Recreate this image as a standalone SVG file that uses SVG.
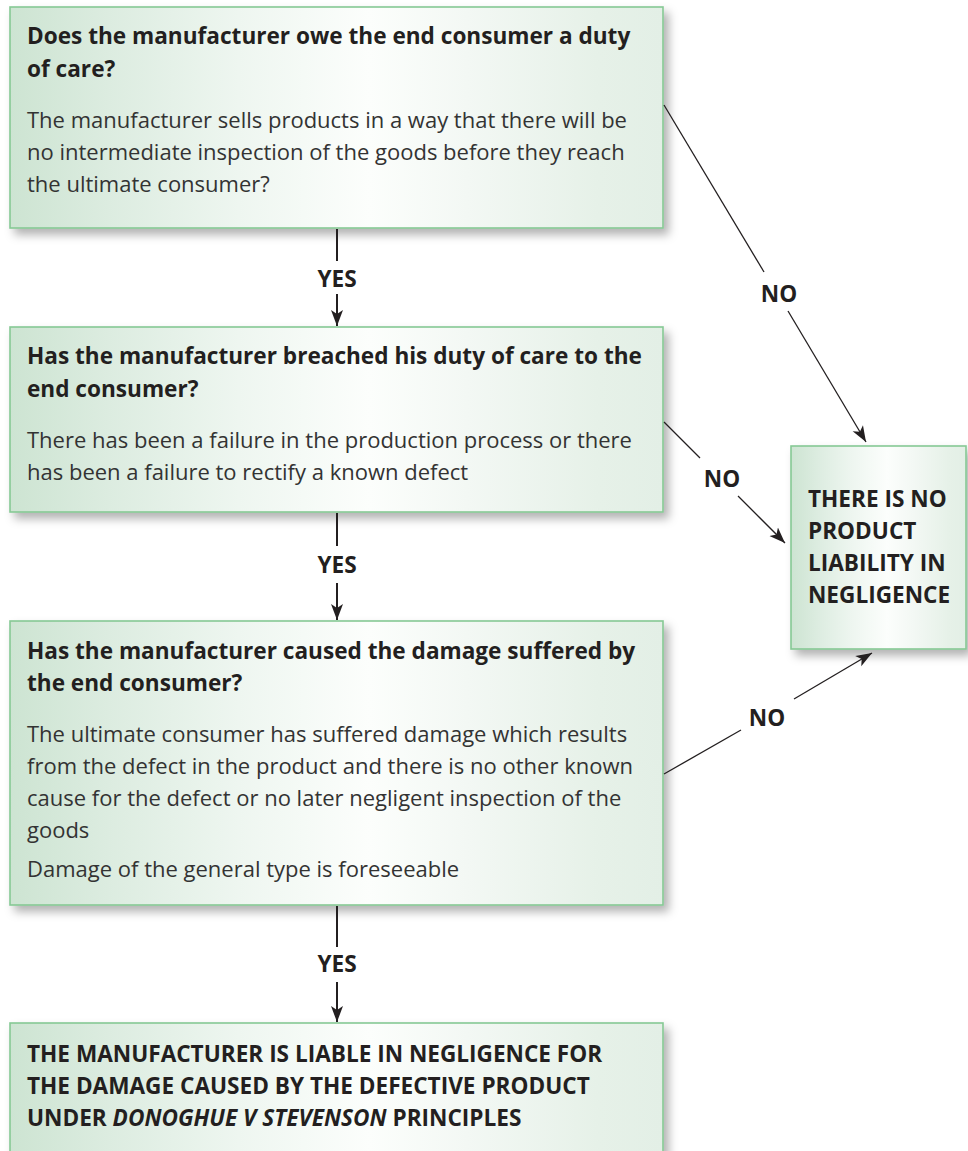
<svg xmlns="http://www.w3.org/2000/svg" width="968" height="1151" viewBox="0 0 968 1151">
  <defs>
    <linearGradient id="boxFill" x1="0" y1="0" x2="1" y2="0">
      <stop offset="0" stop-color="#cde4d2"/>
      <stop offset="0.15" stop-color="#dcece0"/>
      <stop offset="0.35" stop-color="#eef6f0"/>
      <stop offset="0.55" stop-color="#fcfefc"/>
      <stop offset="0.7" stop-color="#f3f8f4"/>
      <stop offset="0.9" stop-color="#e6f1e8"/>
      <stop offset="1" stop-color="#e3efe6"/>
    </linearGradient>
    <filter id="shadow" x="-10%" y="-10%" width="125%" height="130%">
      <feDropShadow dx="5" dy="6" stdDeviation="5" flood-color="#000" flood-opacity="0.3"/>
    </filter>
    <marker id="arrow" markerUnits="userSpaceOnUse" markerWidth="18" markerHeight="14" refX="16" refY="7" orient="auto">
      <path d="M0,1 L16,7 L0,13 L4,7 z" fill="#231f20"/>
    </marker>
    <style>
      .box { fill: url(#boxFill); stroke: #86c994; stroke-width: 1.6; filter: url(#shadow); }
      .title { font-family: "Open Sans", "Noto Sans", "Liberation Sans", sans-serif; font-weight: 700; font-size: 22.6px; fill: #231f20; }
      .body { font-family: "Open Sans", "Noto Sans", "Liberation Sans", sans-serif; font-weight: 400; font-size: 22px; fill: #333333; }
      .label { font-family: "Open Sans", "Noto Sans", "Liberation Sans", sans-serif; font-weight: 700; font-size: 22.6px; fill: #231f20; text-anchor: middle; }
      .vline { stroke: #231f20; stroke-width: 2; fill: none; }
      .dline { stroke: #231f20; stroke-width: 1.3; fill: none; }
    </style>
  </defs>

  <rect width="968" height="1151" fill="#ffffff"/>

  <!-- Question 1: duty of care -->
  <g id="duty-of-care">
    <rect class="box" x="10" y="7" width="653" height="221"/>
    <text class="title" x="27" y="44">Does the manufacturer owe the end consumer a duty</text>
    <text class="title" x="27" y="77">of care?</text>
    <text class="body" x="27" y="128">The manufacturer sells products in a way that there will be</text>
    <text class="body" x="27" y="160">no intermediate inspection of the goods before they reach</text>
    <text class="body" x="27" y="192">the ultimate consumer?</text>
  </g>

  <!-- Question 2: breach of duty -->
  <g id="breach">
    <rect class="box" x="10" y="327" width="653" height="185"/>
    <text class="title" x="27" y="364">Has the manufacturer breached his duty of care to the</text>
    <text class="title" x="27" y="397">end consumer?</text>
    <text class="body" x="27" y="448">There has been a failure in the production process or there</text>
    <text class="body" x="27" y="480">has been a failure to rectify a known defect</text>
  </g>

  <!-- Question 3: causation -->
  <g id="causation">
    <rect class="box" x="10" y="621" width="653" height="284"/>
    <text class="title" x="27" y="659">Has the manufacturer caused the damage suffered by</text>
    <text class="title" x="27" y="691">the end consumer?</text>
    <text class="body" x="27" y="742">The ultimate consumer has suffered damage which results</text>
    <text class="body" x="27" y="774">from the defect in the product and there is no other known</text>
    <text class="body" x="27" y="806">cause for the defect or no later negligent inspection of the</text>
    <text class="body" x="27" y="838">goods</text>
    <text class="body" x="27" y="877">Damage of the general type is foreseeable</text>
  </g>

  <!-- Outcome: liable -->
  <g id="liable">
    <rect class="box" x="10" y="1023" width="653" height="150"/>
    <text class="title" x="27" y="1062">THE MANUFACTURER IS LIABLE IN NEGLIGENCE FOR</text>
    <text class="title" x="27" y="1094">THE DAMAGE CAUSED BY THE DEFECTIVE PRODUCT</text>
    <text class="title" x="27" y="1126">UNDER <tspan font-style="italic">DONOGHUE V STEVENSON</tspan> PRINCIPLES</text>
  </g>

  <!-- Outcome: not liable -->
  <g id="not-liable">
    <rect class="box" x="791" y="446" width="175" height="203"/>
    <text class="title" x="808" y="507">THERE IS NO</text>
    <text class="title" x="808" y="539">PRODUCT</text>
    <text class="title" x="808" y="571">LIABILITY IN</text>
    <text class="title" x="808" y="603">NEGLIGENCE</text>
  </g>

  <!-- Connectors -->
  <g id="connectors">
    <line class="vline" x1="337" y1="229" x2="337" y2="261"/>
    <line class="vline" x1="337" y1="294" x2="337" y2="326" marker-end="url(#arrow)"/>
    <text class="label" x="337" y="287">YES</text>

    <line class="vline" x1="337" y1="513" x2="337" y2="546"/>
    <line class="vline" x1="337" y1="583" x2="337" y2="620" marker-end="url(#arrow)"/>
    <text class="label" x="337" y="573">YES</text>

    <line class="vline" x1="337" y1="906" x2="337" y2="947"/>
    <line class="vline" x1="337" y1="982" x2="337" y2="1022" marker-end="url(#arrow)"/>
    <text class="label" x="337" y="972">YES</text>

    <line class="dline" x1="664" y1="105" x2="764" y2="272"/>
    <line class="dline" x1="788" y1="311" x2="866" y2="442" marker-end="url(#arrow)"/>
    <text class="label" x="779" y="302">NO</text>

    <line class="dline" x1="664" y1="422" x2="700" y2="458"/>
    <line class="dline" x1="738" y1="496" x2="785" y2="543" marker-end="url(#arrow)"/>
    <text class="label" x="722" y="487">NO</text>

    <line class="dline" x1="664" y1="774" x2="741" y2="730"/>
    <line class="dline" x1="794" y1="699" x2="872" y2="653" marker-end="url(#arrow)"/>
    <text class="label" x="767" y="726">NO</text>
  </g>
</svg>
